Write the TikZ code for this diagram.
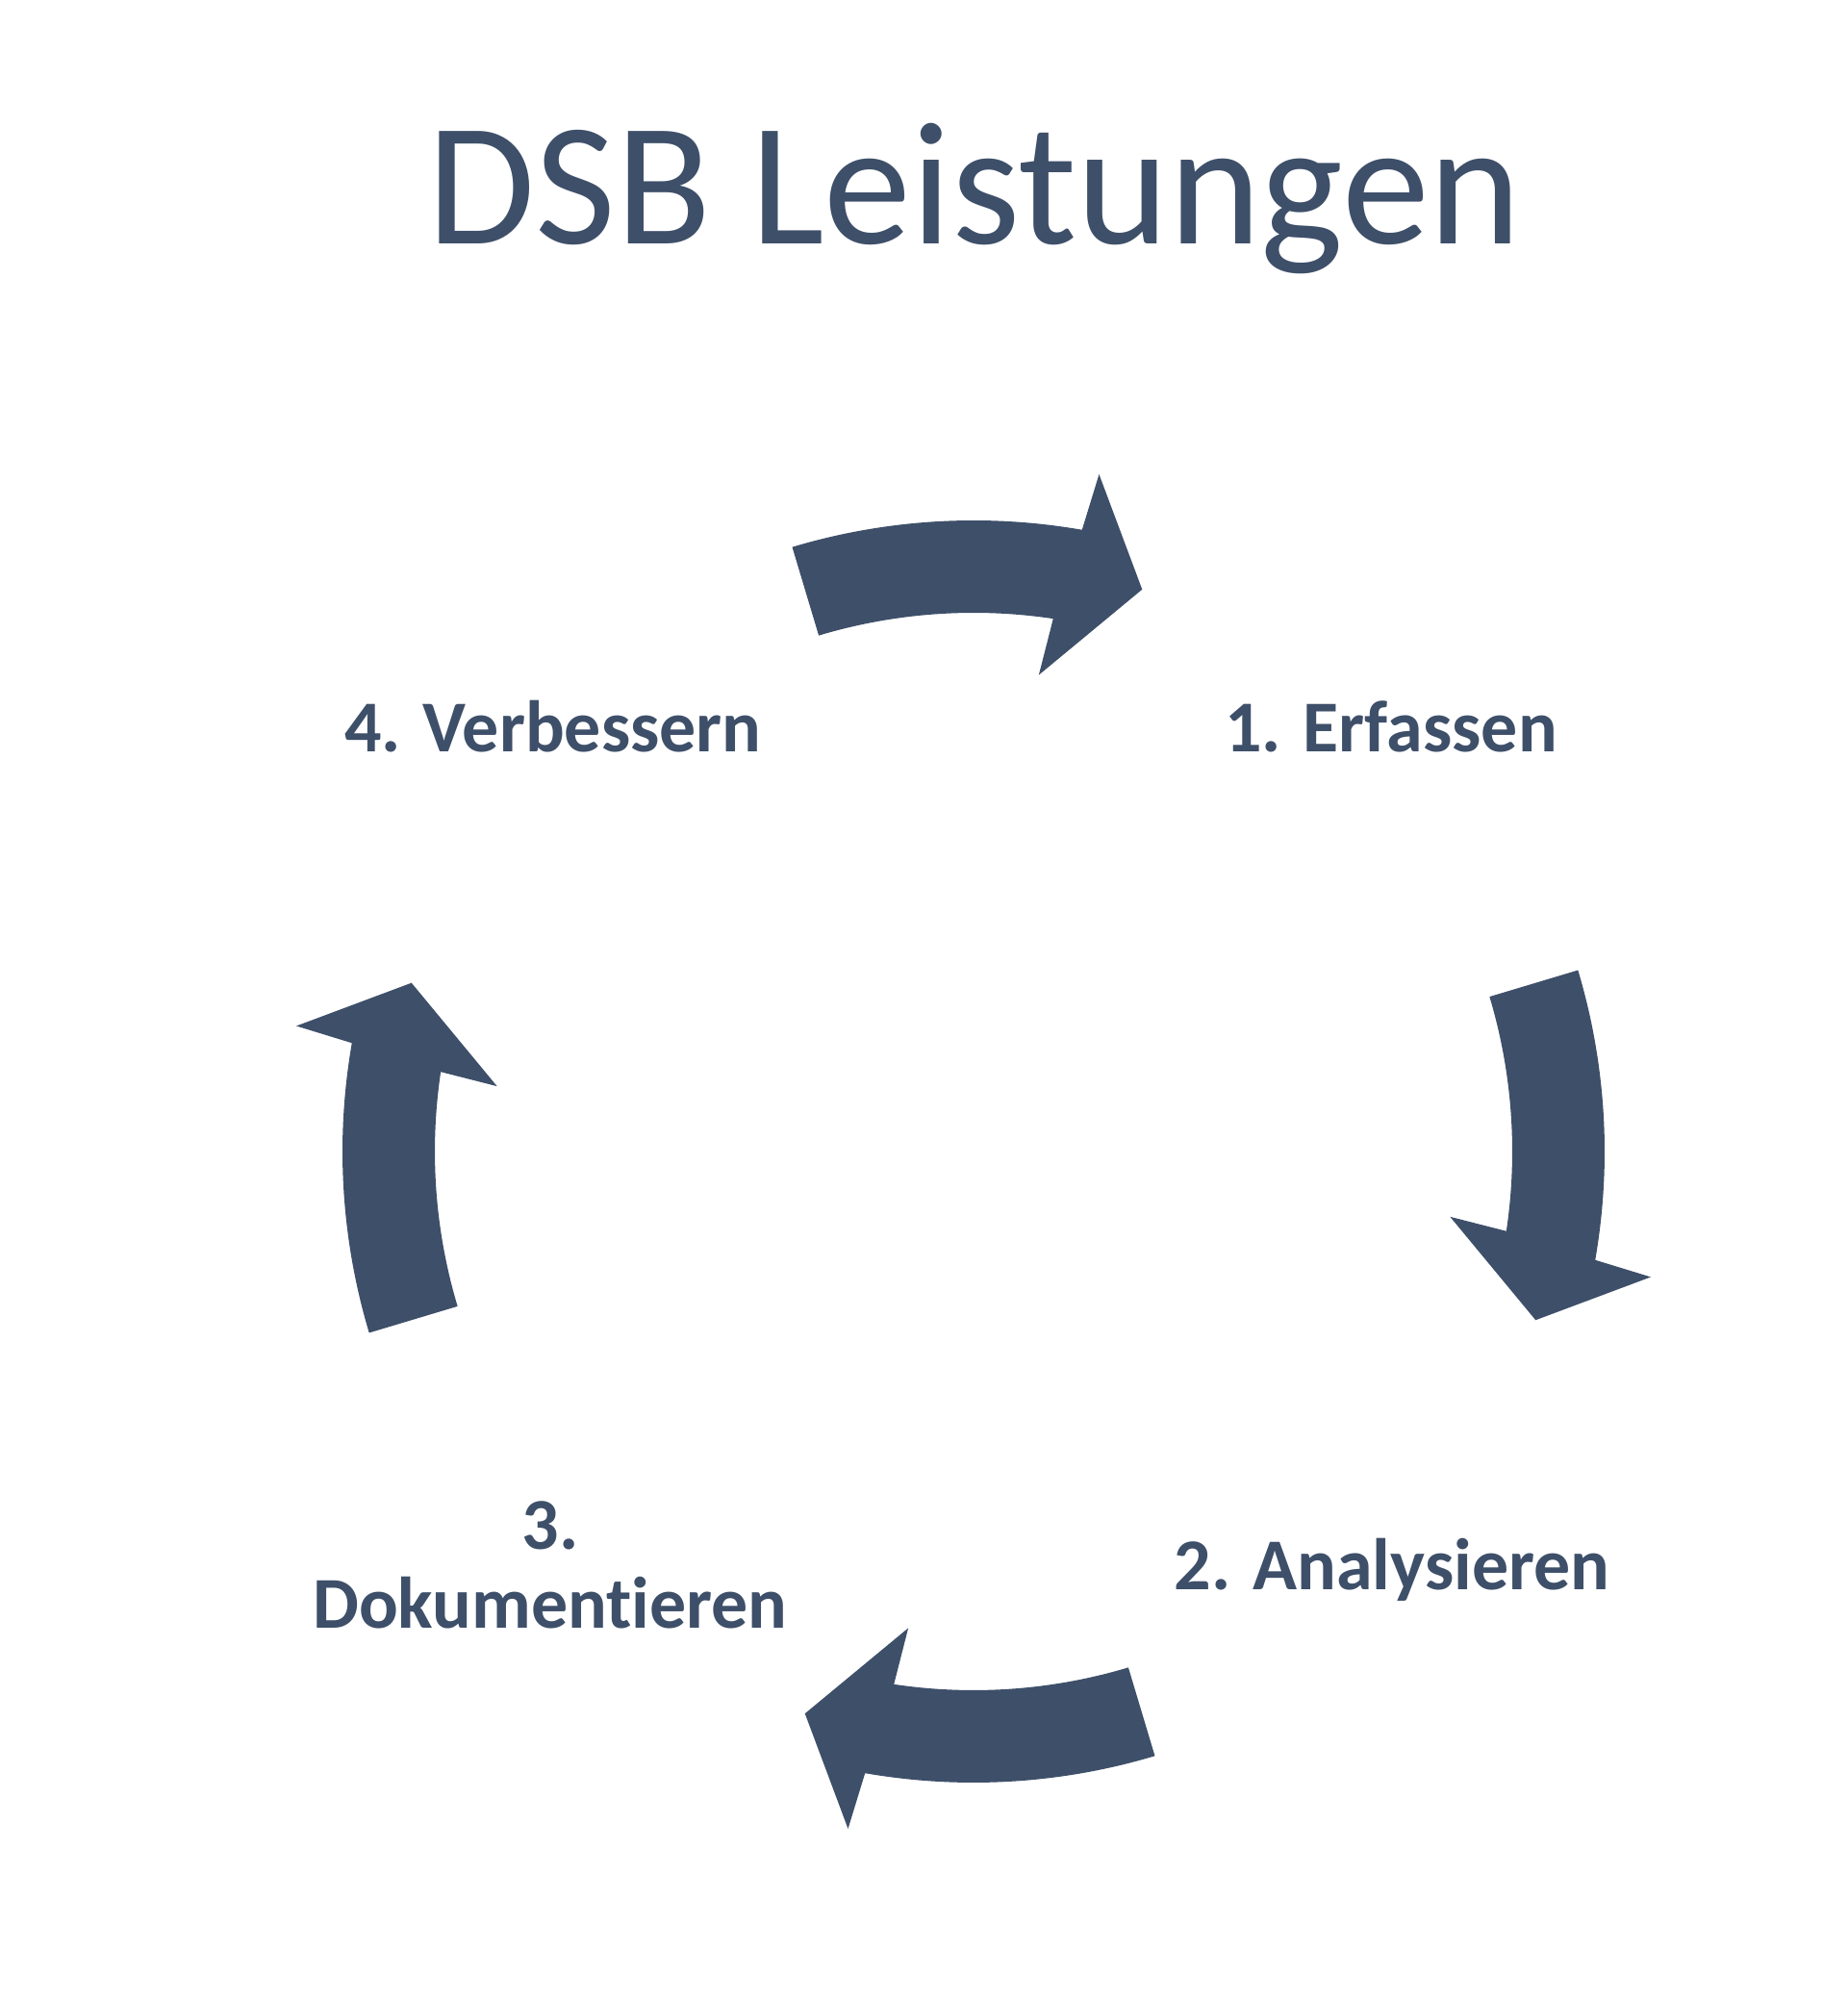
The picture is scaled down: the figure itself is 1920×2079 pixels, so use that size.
\documentclass[tikz,border=0pt]{standalone}
\usepackage{fontspec}
\setmainfont{Carlito}[Ligatures=NoCommon]
\definecolor{slateblue}{HTML}{3E4F69}
\tikzset{
  steplabel/.style={font=\fontsize{21.6}{23.6}\selectfont\bfseries, text=slateblue, inner sep=0pt, align=center, anchor=base},
  cyclearrow/.style={fill=slateblue, draw=none}
}

\begin{document}
\begin{tikzpicture}[x=0.01cm, y=0.01cm]
  \useasboundingbox (0,0) rectangle (1920,2079);

  \node[font=\fontsize{51.8}{60}\selectfont, text=slateblue, inner sep=0pt, anchor=base] (title) at (1013,1825) {DSB Leistungen};
  \coordinate (hub) at (1012,882);

  % step labels
  \node[steplabel] (erfassen) at (1446,1297) {1. Erfassen};
  \node[steplabel] (analysieren) at (1447,426) {2. Analysieren};
  \node[steplabel] (dokumentieren) at (572,386) {3.\\Dokumentieren};
  \node[steplabel] (verbessern) at (575,1297) {4. Verbessern};

  % curved arrows, clockwise
  \foreach \c in {90,0,-90,-180}
    \fill[cyclearrow, shift={(hub)}] (\c+16.7:656) arc[start angle=\c+16.7, end angle=\c-9.9, radius=656]
      -- (\c-10.5:716) -- (\c-16.7:610) -- (\c-7.8:500) -- (\c-8.5:560)
      arc[start angle=\c-8.5, end angle=\c+16.7, radius=560] -- cycle;
\end{tikzpicture}
\end{document}
